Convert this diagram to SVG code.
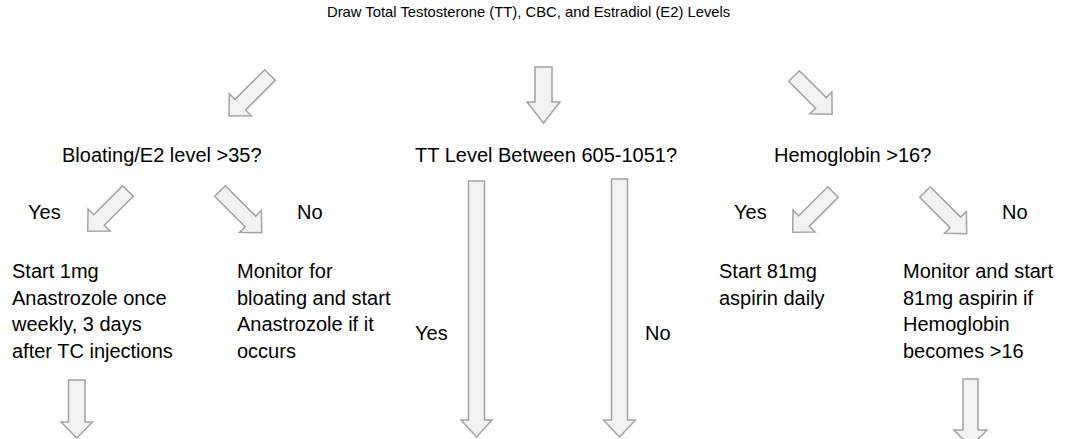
<svg xmlns="http://www.w3.org/2000/svg" width="1065" height="439" viewBox="0 0 1065 439">
<style>
.t{font-family:"Liberation Sans",Arial,sans-serif;font-size:20px;fill:#000}
.title{font-family:"Liberation Sans",Arial,sans-serif;font-size:14.8px;fill:#000}
.arr{fill:#f2f2f2;stroke:#a3a3a3;stroke-width:1.5;stroke-linejoin:miter}
</style>
<rect width="1065" height="439" fill="#fff"/>
<g id="title"><text class="title" x="327" y="17">Draw Total Testosterone (TT), CBC, and Estradiol (E2) Levels</text></g>
<g id="q-bloating"><text class="t" x="62" y="161.5">Bloating/E2 level &gt;35?</text></g>
<g id="q-tt"><text class="t" x="415" y="161.5">TT Level Between 605-1051?</text></g>
<g id="q-hgb"><text class="t" x="774" y="161.5">Hemoglobin &gt;16?</text></g>
<g id="lbl-yes1"><text class="t" x="28" y="219">Yes</text></g>
<g id="lbl-no1"><text class="t" x="297" y="219">No</text></g>
<g id="lbl-yes2"><text class="t" x="415" y="339.5">Yes</text></g>
<g id="lbl-no2"><text class="t" x="645" y="339.5">No</text></g>
<g id="lbl-yes3"><text class="t" x="734" y="219">Yes</text></g>
<g id="lbl-no3"><text class="t" x="1002" y="219">No</text></g>
<g id="a-start"><text class="t" x="12" y="278"><tspan x="12">Start 1mg</tspan><tspan x="12" y="304.5">Anastrozole once</tspan><tspan x="12" y="331">weekly, 3 days</tspan><tspan x="12" y="357.5">after TC injections</tspan></text></g>
<g id="a-monitor"><text class="t" x="237" y="278"><tspan x="237">Monitor for</tspan><tspan x="237" y="304.5">bloating and start</tspan><tspan x="237" y="331">Anastrozole if it</tspan><tspan x="237" y="357.5">occurs</tspan></text></g>
<g id="h-aspirin"><text class="t" x="719" y="278"><tspan x="719">Start 81mg</tspan><tspan x="719" y="304.5">aspirin daily</tspan></text></g>
<g id="h-monitor"><text class="t" x="903" y="278"><tspan x="903">Monitor and start</tspan><tspan x="903" y="304.5">81mg aspirin if</tspan><tspan x="903" y="331">Hemoglobin</tspan><tspan x="903" y="357.5">becomes &gt;16</tspan></text></g>
<g id="connectors">
<polygon class="arr" transform="translate(270,75) rotate(45)" points="-7.5,0 7.5,0 7.5,42 15.5,42 0,58 -15.5,42 -7.5,42"/>
<polygon class="arr" points="535,67 552,67 552,102 560,102 543.5,123 527,102 535,102"/>
<polygon class="arr" transform="translate(794,76) rotate(-45)" points="-7.5,0 7.5,0 7.5,38 15.5,38 0,54 -15.5,38 -7.5,38"/>
<polygon class="arr" transform="translate(128,191) rotate(45)" points="-7.5,0 7.5,0 7.5,41 15.5,41 0,57 -15.5,41 -7.5,41"/>
<polygon class="arr" transform="translate(220,191) rotate(-45)" points="-7.5,0 7.5,0 7.5,43 15.5,43 0,59 -15.5,43 -7.5,43"/>
<polygon class="arr" transform="translate(833,192) rotate(45)" points="-7.5,0 7.5,0 7.5,41 15.5,41 0,57 -15.5,41 -7.5,41"/>
<polygon class="arr" transform="translate(925,192) rotate(-45)" points="-7.5,0 7.5,0 7.5,43 15.5,43 0,59 -15.5,43 -7.5,43"/>
<polygon class="arr" points="468.5,181 484.5,181 484.5,420 492,420 476.5,437 461,420 468.5,420"/>
<polygon class="arr" points="611.5,179 627.5,179 627.5,420 635.5,420 619.5,437 603.5,420 611.5,420"/>
<polygon class="arr" points="68.5,380 85,380 85,422 92.5,422 76.75,438 61,422 68.5,422"/>
<polygon class="arr" points="963,379 978,379 978,430 987,430 970.5,447 954,430 963,430"/>
</g>
</svg>
